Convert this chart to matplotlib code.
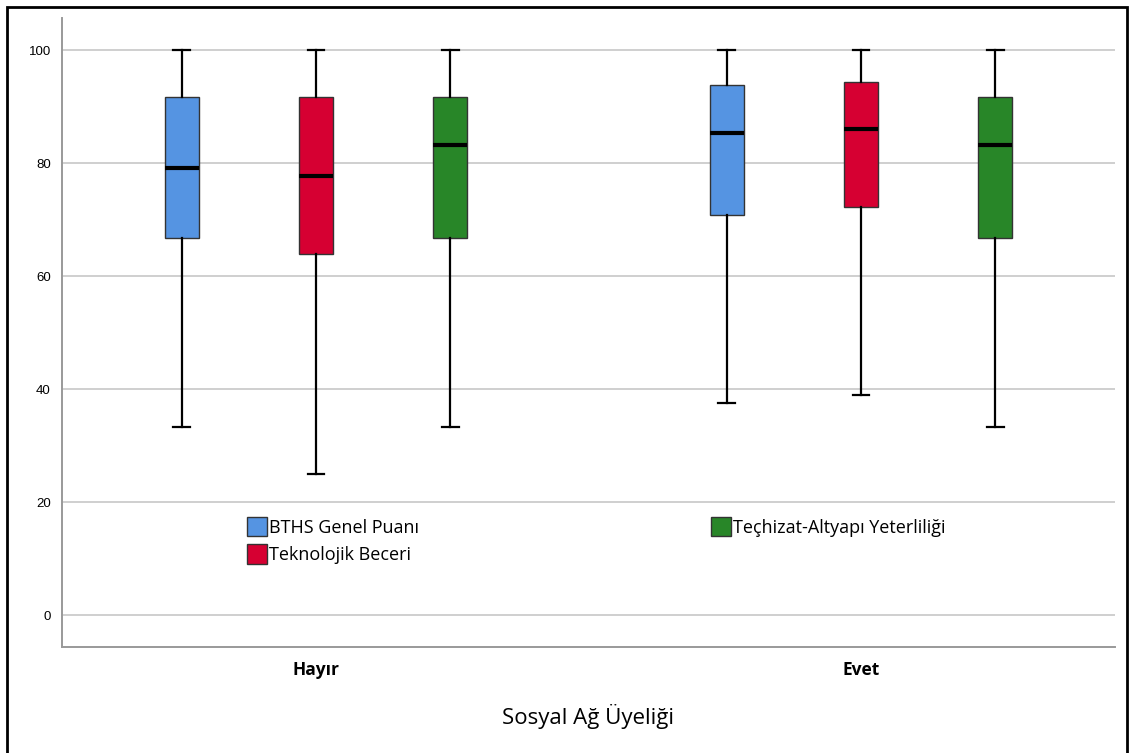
import matplotlib.pyplot as plt
import matplotlib.patches as mpatches

# --- data ------------------------------------------------------------------
groups = ["Hayır", "Evet"]
series = ["BTHS Genel Puanı", "Teknolojik Beceri", "Teçhizat-Altyapı Yeterliliği"]
colors = ["#5594E2", "#D60032", "#288628"]

# per series, per group (Hayır, Evet)
whislo = [[33.3, 37.5], [25.0, 38.9], [33.3, 33.3]]
q1 = [[66.7, 70.8], [64.0, 72.2], [66.7, 66.7]]
med = [[79.2, 85.4], [77.8, 86.1], [83.3, 83.3]]
q3 = [[91.7, 93.8], [91.7, 94.4], [91.7, 91.7]]
whishi = [[100, 100], [100, 100], [100, 100]]

yticks = [0, 20, 40, 60, 80, 100]

fig = plt.figure(figsize=(11.32, 7.53), dpi=100)
ax = fig.add_axes([62 / 1132, 1 - 647 / 753, 1053 / 1132, 629 / 753])

offsets = [-0.246, 0.0, 0.246]
width = 0.062
for s, name in enumerate(series):
    stats = []
    for g in range(len(groups)):
        stats.append(dict(whislo=whislo[s][g], q1=q1[s][g], med=med[s][g],
                          q3=q3[s][g], whishi=whishi[s][g], fliers=[]))
    pos = [g + offsets[s] for g in range(len(groups))]
    ax.bxp(stats, positions=pos, widths=width, patch_artist=True,
           showfliers=False, manage_ticks=False,
           boxprops=dict(facecolor=colors[s], edgecolor="#333333", lw=1.0),
           medianprops=dict(color="black", lw=3),
           whiskerprops=dict(color="black", lw=1.6),
           capprops=dict(color="black", lw=1.6), capwidths=width / 2,
           zorder=3)

ax.set_xlim(-0.466, 1.466)
ax.set_ylim(-5.66, 105.7)
ax.set_yticks(yticks)
ax.set_yticklabels([str(t) for t in yticks], family="Liberation Sans", fontsize=9.5)
ax.set_xticks(range(len(groups)))
ax.set_xticklabels(groups, family="Open Sans", fontweight="bold", fontsize=12.5)
ax.tick_params(length=0)
ax.tick_params(axis="x", pad=10)
ax.tick_params(axis="y", pad=8)
ax.grid(axis="y", color="#cfcfcf", lw=1.4, zorder=0)
ax.set_axisbelow(True)
for sp in ["top", "right"]:
    ax.spines[sp].set_visible(False)
for sp in ["left", "bottom"]:
    ax.spines[sp].set_color("#999999")
    ax.spines[sp].set_linewidth(1.4)

ax.set_xlabel("Sosyal Ağ Üyeliği", family="Open Sans", fontsize=16, labelpad=18)

handles = [mpatches.Patch(facecolor=c, edgecolor="#333333", lw=1) for c in colors]
leg_kw = dict(loc="upper left", frameon=False, borderpad=0, borderaxespad=0,
              handlelength=1.1, handleheight=1.3, handletextpad=0.12,
              labelspacing=0.4, prop=dict(family="Open Sans", size=13))
leg1 = ax.legend(handles[:2], series[:2], bbox_to_anchor=(0.1757, 0.207), **leg_kw)
ax.add_artist(leg1)
ax.legend(handles[2:], series[2:], bbox_to_anchor=(0.6163, 0.207), **leg_kw)

# outer frame of the exported chart
fig.patches.append(mpatches.Rectangle((7 / 1132, -0.05), 1120 / 1132, 1.05 - 7 / 753,
                                      transform=fig.transFigure, fill=False,
                                      edgecolor="black", lw=2))

fig.savefig("out.png", dpi=100)
